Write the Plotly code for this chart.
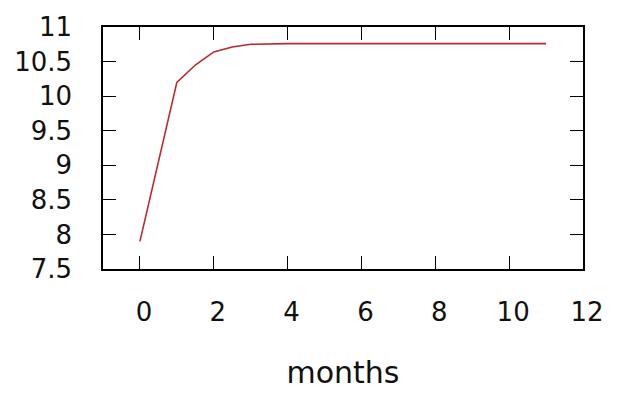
import plotly.graph_objects as go

# monthly values of the series
months = [0, 1, 1.5, 2, 2.5, 3, 4, 5, 6, 7, 8, 9, 10, 11]
values = [7.9, 10.2, 10.45, 10.64, 10.71, 10.75, 10.76, 10.76, 10.76, 10.76, 10.76, 10.76, 10.76, 10.76]

x_ticks = [0, 2, 4, 6, 8, 10, 12]
y_ticks = [7.5, 8, 8.5, 9, 9.5, 10, 10.5, 11]

font_family = "DejaVu Sans"
ink = "#111111"

fig = go.Figure(
    go.Scatter(
        x=months,
        y=values,
        mode="lines",
        line=dict(color="#c0262b", width=1.6),
        showlegend=False,
        hoverinfo="skip",
    )
)

axis_common = dict(
    showgrid=False,
    zeroline=False,
    showline=True,
    linecolor="black",
    linewidth=1.5,
    mirror="ticks",
    ticks="inside",
    ticklen=13,
    tickwidth=1.3,
    tickcolor="black",
    tickfont=dict(family=font_family, size=26, color=ink),
)

fig.update_xaxes(
    **axis_common,
    range=[-1, 12],
    tickvals=x_ticks,
    ticktext=[str(v) for v in x_ticks],
    ticklabelstandoff=19,
    ticklabelshift=4,
    title=dict(text="months", font=dict(family=font_family, size=30, color=ink), standoff=36),
)
fig.update_yaxes(
    **axis_common,
    range=[7.5, 11],
    tickvals=y_ticks,
    ticktext=[f"{v:g}" for v in y_ticks],
    ticklabelstandoff=24,
)

fig.update_layout(
    width=622,
    height=396,
    margin=dict(l=103, r=39, t=20, b=126),
    paper_bgcolor="white",
    plot_bgcolor="white",
)

fig.write_html("out.html")
